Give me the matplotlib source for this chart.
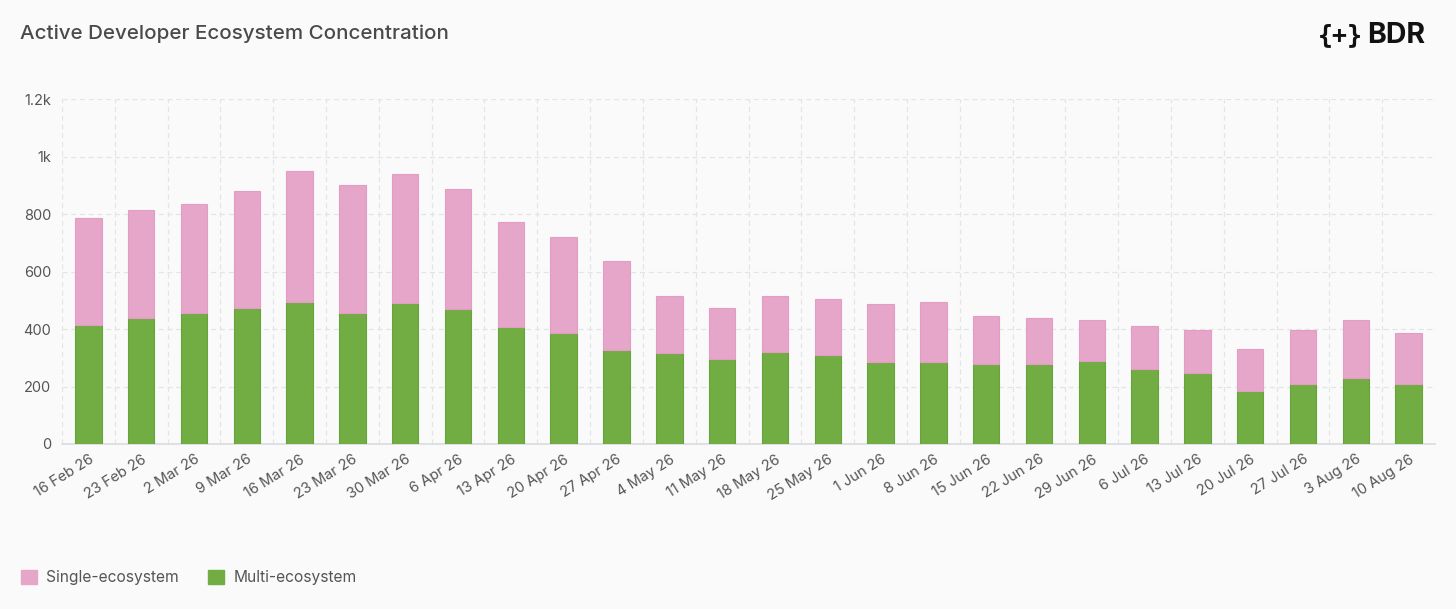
import numpy as np
import matplotlib
matplotlib.use('Agg')
import matplotlib.pyplot as plt
from matplotlib.patches import Patch

# Weekly values
weeks = ['16 Feb 26', '23 Feb 26', '2 Mar 26', '9 Mar 26', '16 Mar 26', '23 Mar 26',
         '30 Mar 26', '6 Apr 26', '13 Apr 26', '20 Apr 26', '27 Apr 26', '4 May 26',
         '11 May 26', '18 May 26', '25 May 26', '1 Jun 26', '8 Jun 26', '15 Jun 26',
         '22 Jun 26', '29 Jun 26', '6 Jul 26', '13 Jul 26', '20 Jul 26', '27 Jul 26',
         '3 Aug 26', '10 Aug 26']
total = [786, 815, 836, 882, 950, 900, 941, 887, 772, 722, 637, 516, 473, 516,
         503, 486, 495, 447, 439, 431, 410, 398, 330, 398, 431, 388]
multi = [415, 440, 457, 474, 495, 457, 490, 470, 406, 386, 326, 318, 297, 321,
         309, 284, 287, 279, 279, 289, 262, 246, 183, 209, 229, 209]
single = [t - m for t, m in zip(total, multi)]

y_ticks = [0, 200, 400, 600, 800, 1000, 1200]
y_tick_labels = ['0', '200', '400', '600', '800', '1k', '1.2k']

pink = '#e6a6c9'
green = '#71ad42'
bg = '#fafafa'
grid_col = '#e2e4e8'
text_col = '#555555'

plt.rcParams['font.family'] = ['Inter', 'DejaVu Sans']

fig = plt.figure(figsize=(14.56, 6.09), dpi=100, facecolor=bg)
ax = fig.add_axes([0.0426, 0.271, 0.943, 0.566], facecolor=bg)

x = np.arange(len(weeks))
ax.bar(x, multi, width=0.5, color=green, edgecolor='#67a33a', linewidth=0.8, zorder=3)
ax.bar(x, single, bottom=multi, width=0.5, color=pink, edgecolor='#e39cc3',
       linewidth=0.8, zorder=3)

ax.set_xlim(-0.5, len(weeks) - 0.5)
ax.set_ylim(0, 1200)
ax.set_yticks(y_ticks)
ax.set_yticklabels(y_tick_labels)
ax.set_xticks(x)
ax.set_xticklabels(weeks, rotation=32, ha='right', rotation_mode='anchor')

# vertical grid lines sit on the category boundaries
ax.set_xticks(np.arange(len(weeks) + 1) - 0.5, minor=True)
ax.grid(True, which='minor', axis='x', color=grid_col, linestyle=(0, (4, 3)), linewidth=0.9, zorder=0)
ax.grid(True, which='major', axis='y', color=grid_col, linestyle=(0, (4, 3)), linewidth=0.9, zorder=0)

ax.tick_params(axis='both', which='both', length=0, colors=text_col, labelsize=10.5)
ax.tick_params(axis='x', pad=6)
ax.tick_params(axis='y', pad=8)
for side in ['top', 'right', 'left']:
    ax.spines[side].set_visible(False)
ax.spines['bottom'].set_color('#d9dbe0')
ax.spines['bottom'].set_linewidth(1.2)

fig.text(0.0137, 0.945, 'Active Developer Ecosystem Concentration', fontsize=14.8,
         color='#4a4a4a', ha='left', va='center', fontweight='medium')

# logo
fig.text(0.905, 0.942, '{+}', fontsize=18, fontweight='bold', color='#111111',
         ha='left', va='center', family='DejaVu Sans Mono')
fig.text(0.939, 0.942, 'BDR', fontsize=20.5, fontweight='bold', color='#111111',
         ha='left', va='center')

handles = [Patch(facecolor=pink, edgecolor=pink, label='Single-ecosystem'),
           Patch(facecolor=green, edgecolor=green, label='Multi-ecosystem')]
leg = fig.legend(handles=handles, loc='center left', bbox_to_anchor=(0.005, 0.052), ncol=2,
                 frameon=False, fontsize=11.2, handlelength=1.0, handleheight=1.0,
                 handletextpad=0.6, columnspacing=1.9)
for t in leg.get_texts():
    t.set_color(text_col)

fig.savefig('out.png', dpi=100, facecolor=bg)
